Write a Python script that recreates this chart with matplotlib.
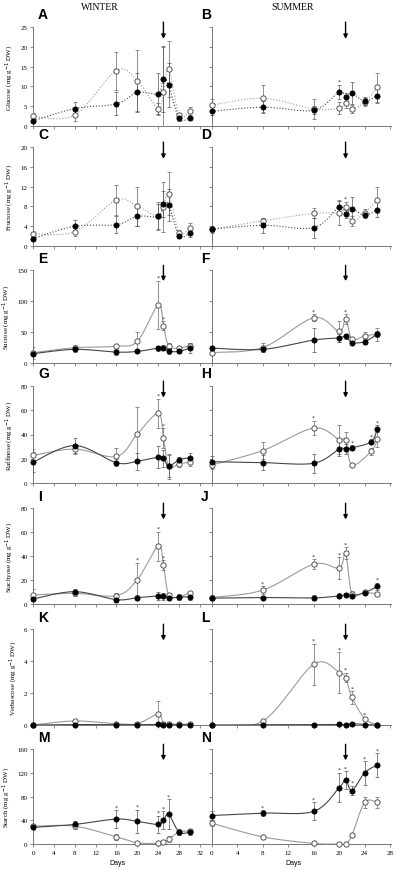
import numpy as np
import matplotlib.pyplot as plt

# sampling days
days_w = [0, 8, 16, 20, 24, 25, 26, 28, 30]
days_s = [0, 8, 16, 20, 21, 22, 24, 26]
days_s_raf = [0, 8, 16, 20, 21, 22, 25, 26]

# --- Glucose
glu_w_open = [2.4, 2.8, 14.0, 11.4, 4.4, 8.5, 14.4, 2.7, 3.7]
glu_w_open_err = [0.8, 1.5, 4.8, 7.7, 1.5, 11.5, 7.0, 0.6, 1.2]
glu_w_fill = [1.3, 4.4, 5.6, 8.5, 8.2, 11.9, 10.3, 1.9, 2.1]
glu_w_fill_err = [0.6, 1.7, 2.9, 5.0, 5.2, 8.3, 5.5, 0.6, 0.7]
glu_s_open = [5.3, 7.0, 4.3, 4.5, 5.8, 4.3, 6.0, 9.8]
glu_s_open_err = [1.5, 3.4, 2.5, 1.5, 1.2, 1.0, 1.0, 3.7]
glu_s_fill = [3.7, 4.75, 4.0, 8.6, 7.3, 8.25, 6.3, 7.7]
glu_s_fill_err = [1.0, 1.5, 1.0, 1.8, 1.0, 2.75, 1.0, 1.8]

# --- Fructose
fru_w_open = [2.5, 2.9, 9.3, 8.0, 6.0, 7.9, 10.6, 2.7, 3.6]
fru_w_open_err = [0.6, 0.8, 3.0, 4.0, 2.8, 5.0, 4.3, 0.5, 1.0]
fru_w_fill = [1.5, 4.0, 4.3, 6.0, 6.0, 8.5, 8.3, 2.1, 2.6]
fru_w_fill_err = [0.5, 1.2, 1.7, 2.0, 2.5, 2.6, 3.3, 0.4, 0.8]
fru_s_open = [3.4, 5.1, 6.6, 6.7, 7.9, 5.1, 6.7, 9.3]
fru_s_open_err = [0.7, 0.6, 1.0, 2.5, 1.0, 1.0, 0.7, 2.7]
fru_s_fill = [3.4, 4.2, 3.7, 7.9, 6.5, 7.5, 6.2, 7.3]
fru_s_fill_err = [0.5, 1.5, 2.0, 1.2, 0.8, 2.4, 0.6, 1.5]

# --- Sucrose
suc_w_open = [16.6, 24.6, 27, 35, 93.6, 60, 28, 24, 28]
suc_w_open_err = [10, 5, 4, 15, 39, 7, 4, 3, 4]
suc_w_fill = [15, 22, 17.6, 18.7, 24, 24.6, 19, 18.7, 24]
suc_w_fill_err = [4, 4, 4, 3, 4, 4, 5, 3, 8]
suc_s_open = [16.7, 25, 73, 51, 71, 38, 44, 46]
suc_s_open_err = [4, 8, 6, 17, 8, 4, 6, 10]
suc_s_fill = [24, 22, 37, 40.5, 43, 33, 34.5, 46.7]
suc_s_fill_err = [4, 4, 20, 7, 4, 3, 4, 5]

# --- Raffinose
raf_w_open = [22.7, 28, 21.9, 40.4, 57.4, 37.2, 13.7, 15.8, 17.2]
raf_w_open_err = [5, 4, 7, 22, 12, 8, 10, 3, 3]
raf_w_fill = [17.2, 30.9, 16.7, 18, 21.3, 20.5, 14, 19.1, 20.8]
raf_w_fill_err = [8, 6, 3, 7, 9, 7, 9, 2, 4]
raf_s_open = [14.9, 26.8, 45.3, 35.8, 35.8, 14.9, 26, 36]
raf_s_open_err = [3, 7, 6, 12, 6, 1, 3, 6]
raf_s_fill = [17.6, 16.8, 16.3, 27.9, 27.9, 29, 33.9, 44.7]
raf_s_fill_err = [5, 6, 8, 6, 4, 2, 2, 3]

# --- Stachyose
sta_w_open = [7.5, 8.9, 7.0, 20.3, 48.2, 32.6, 7.5, 6.1, 9.2]
sta_w_open_err = [5, 2, 2, 14, 12, 4, 2, 2, 2]
sta_w_fill = [4.2, 10.3, 3.6, 5.3, 6.7, 6.4, 5.3, 5.6, 6.1]
sta_w_fill_err = [2, 2, 2, 2, 3, 3, 2, 2, 3]
sta_s_open = [5.4, 11.6, 33.2, 30, 42.2, 8.6, 9.7, 8.4]
sta_s_open_err = [2, 3, 4, 9, 5, 2, 1, 1]
sta_s_fill = [4.9, 5.4, 5.1, 6.8, 7.8, 6.8, 9.5, 14.6]
sta_s_fill_err = [1.5, 1.5, 2, 2, 1.5, 1.5, 1, 3]

# --- Verbascose
ver_w_open = [0, 0.25, 0.08, 0.08, 0.67, 0.05, 0.05, 0.05, 0.05]
ver_w_open_err = [0, 0, 0, 0, 0.83, 0, 0, 0, 0]
ver_w_fill = [0, 0.03, 0.02, 0.02, 0.04, 0.02, 0.02, 0.02, 0.02]
ver_w_fill_err = [0, 0, 0, 0, 0, 0, 0, 0, 0]
ver_s_open = [0, 0.25, 3.8, 3.28, 2.96, 1.73, 0.4, 0.0]
ver_s_open_err = [0, 0.05, 1.27, 1.27, 0.3, 0.4, 0.1, 0]
ver_s_fill = [0, 0.02, 0.02, 0.04, 0.03, 0.08, 0.03, 0.0]
ver_s_fill_err = [0, 0, 0, 0, 0, 0, 0, 0]

# --- Starch
sth_w_open = [30, 30, 12, 2, 1, 3, 8, 20, 22]
sth_w_open_err = [4, 5, 5, 2, 1, 2, 5, 4, 4]
sth_w_fill = [28, 33, 42, 38, 33, 40, 50, 20, 20]
sth_w_fill_err = [5, 5, 15, 20, 15, 15, 25, 5, 5]
sth_s_open = [35, 12, 1, 0, 0, 15, 70, 70]
sth_s_open_err = [5, 3, 1, 0, 0, 4, 10, 10]
sth_s_fill = [48, 52, 55, 95, 108, 90, 120, 133]
sth_s_fill_err = [8, 5, 15, 25, 15, 8, 20, 20]

# panel letters, y labels, y ranges
letters_w = ['A', 'C', 'E', 'G', 'I', 'K', 'M']
letters_s = ['B', 'D', 'F', 'H', 'J', 'L', 'N']
ylabels = ['Glucose (mg g$^{-1}$ DW)', 'Fructose (mg g$^{-1}$ DW)',
           'Sucrose (mg g$^{-1}$ DW)', 'Raffinose (mg g$^{-1}$ DW)',
           'Stachyose (mg g$^{-1}$ DW)', 'Verbascose (mg g$^{-1}$ DW)',
           'Starch (mg g$^{-1}$ DW)']
ymax = [25, 20, 150, 80, 80, 6, 160]
ystep = [5, 4, 50, 20, 20, 2, 40]

# (open, open_err, fill, fill_err, open stars, fill stars)
winter = [
    (glu_w_open, glu_w_open_err, glu_w_fill, glu_w_fill_err, [], []),
    (fru_w_open, fru_w_open_err, fru_w_fill, fru_w_fill_err, [], []),
    (suc_w_open, suc_w_open_err, suc_w_fill, suc_w_fill_err, [4, 5], []),
    (raf_w_open, raf_w_open_err, raf_w_fill, raf_w_fill_err, [4, 5], []),
    (sta_w_open, sta_w_open_err, sta_w_fill, sta_w_fill_err, [3, 4, 5], []),
    (ver_w_open, ver_w_open_err, ver_w_fill, ver_w_fill_err, [], []),
    (sth_w_open, sth_w_open_err, sth_w_fill, sth_w_fill_err, [], [2, 3, 4, 5, 6]),
]
summer = [
    (glu_s_open, glu_s_open_err, glu_s_fill, glu_s_fill_err, [], [3]),
    (fru_s_open, fru_s_open_err, fru_s_fill, fru_s_fill_err, [4], []),
    (suc_s_open, suc_s_open_err, suc_s_fill, suc_s_fill_err, [2, 4], []),
    (raf_s_open, raf_s_open_err, raf_s_fill, raf_s_fill_err, [2], [5, 6, 7]),
    (sta_s_open, sta_s_open_err, sta_s_fill, sta_s_fill_err, [1, 2, 3, 4], [7]),
    (ver_s_open, ver_s_open_err, ver_s_fill, ver_s_fill_err, [2, 3, 4, 5, 6], []),
    (sth_s_open, sth_s_open_err, sth_s_fill, sth_s_fill_err, [], [1, 2, 3, 4, 5, 6, 7]),
]

serif = ['Liberation Serif', 'DejaVu Serif']
W, H = 397, 879
row_top = [28, 148, 271, 387, 509, 630, 750]
row_bot = [127, 247, 364, 484, 605, 726, 845]


def bezier_smooth(ax, x, y, n=24):
    # Excel-like smoothed line, computed in pixel space
    tr = ax.transData
    p = tr.transform(np.column_stack([x, y]))
    p = np.vstack([p[0], p, p[-1]])
    out = []
    t = np.linspace(0, 1, n)[:, None]
    for i in range(1, len(p) - 2):
        p0, p1, p2, p3 = p[i - 1], p[i], p[i + 1], p[i + 2]
        c1 = p1 + (p2 - p0) / 6
        c2 = p2 - (p3 - p1) / 6
        seg = ((1 - t)**3) * p1 + 3 * ((1 - t)**2) * t * c1 + 3 * (1 - t) * t**2 * c2 + t**3 * p2
        out.append(seg)
    out = np.vstack(out)
    return tr.inverted().transform(out).T


def draw_panel(ax, days, series, row, xlim, arrow_day, letter, left):
    o, oe, f, fe, ostar, fstar = series
    ax.set_xlim(*xlim)
    ax.set_ylim(0, ymax[row])
    for s in ['top', 'right']:
        ax.spines[s].set_visible(False)
    for s in ['left', 'bottom']:
        ax.spines[s].set_color('#777777')
        ax.spines[s].set_linewidth(0.7)
    ax.spines['left'].set_position(('data', 0))
    ax.set_yticks(np.arange(0, ymax[row] + 0.1, ystep[row]))
    ax.set_xticks(np.arange(0, xlim[1] + 0.1, 4))
    ax.tick_params(direction='out', length=2.5, width=0.6, color='#777777',
                   labelsize=5, pad=1.5)
    if not left:
        ax.set_yticklabels([])
    if row != 6:
        ax.set_xticklabels([])
    for lab in ax.get_xticklabels() + ax.get_yticklabels():
        lab.set_fontfamily(serif)

    ls = ':' if row < 2 else '-'
    xo, yo = bezier_smooth(ax, days, o)
    ax.plot(xo, yo, color='#9a9a9a', lw=0.8, ls=ls, zorder=2)
    xf, yf = bezier_smooth(ax, days, f)
    ax.plot(xf, yf, color='#444444', lw=0.8, ls=ls, zorder=2)

    ax.errorbar(days, o, yerr=oe, fmt='none', ecolor='#666666', elinewidth=0.5,
                capsize=1.5, capthick=0.5, zorder=3)
    ax.errorbar(days, f, yerr=fe, fmt='none', ecolor='#555555', elinewidth=0.5,
                capsize=1.5, capthick=0.5, zorder=3)
    ax.plot(days, o, 'o', ms=3.8, mfc='white', mec='#555555', mew=0.7, zorder=4,
            clip_on=False)
    ax.plot(days, f, 'o', ms=3.8, mfc='black', mec='black', mew=0.5, zorder=5,
            clip_on=False)

    off = ymax[row] * 0.035
    for i in ostar:
        ax.text(days[i], o[i] + oe[i] + off, '*', ha='center', va='center',
                fontsize=4.5, color='#333333')
    for i in fstar:
        ax.text(days[i], f[i] + fe[i] + off, '*', ha='center', va='center',
                fontsize=4.5, color='#333333')

    ax.annotate('', xy=(arrow_day, 0.88), xycoords=('data', 'axes fraction'),
                xytext=(arrow_day, 1.05), textcoords=('data', 'axes fraction'),
                arrowprops=dict(arrowstyle='-|>', color='black', lw=1.0,
                                mutation_scale=6, shrinkA=0, shrinkB=0),
                annotation_clip=False)
    ax.text(0.03, 1.13, letter, transform=ax.transAxes, fontsize=10,
            fontweight='bold', family=['Liberation Sans', 'DejaVu Sans'],
            ha='left', va='center')
    if left:
        ax.set_ylabel(ylabels[row], fontsize=5, family=serif, labelpad=3)
    if row == 6:
        ax.set_xlabel('Days', fontsize=5, family=['Liberation Sans', 'DejaVu Sans'],
                      labelpad=3)


fig = plt.figure(figsize=(W / 100, H / 100), dpi=100)
fig.patch.set_facecolor('white')

for r in range(7):
    b = 1 - row_bot[r] / H
    h = (row_bot[r] - row_top[r]) / H
    axw = fig.add_axes([33 / W, b, 168 / W, h])
    draw_panel(axw, days_w, winter[r], r, (0, 32.2), 25, letters_w[r], True)
    axs = fig.add_axes([195.4 / W, b, 196 / W, h])
    ds = days_s_raf if r == 3 else days_s
    draw_panel(axs, ds, summer[r], r, (-2.6, 28.2), 21, letters_s[r], False)

fig.text(100 / W, 1 - 7 / H, 'WINTER', ha='center', va='center', fontsize=7,
         family=serif)
fig.text(293 / W, 1 - 7 / H, 'SUMMER', ha='center', va='center', fontsize=7,
         family=serif)

fig.savefig('out.png', dpi=100)
